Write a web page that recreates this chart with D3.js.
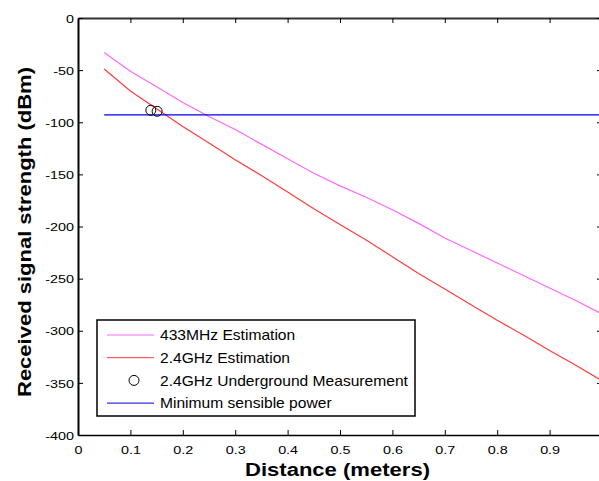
<!DOCTYPE html>
<html>
<head>
<meta charset="utf-8">
<script src="https://cdn.jsdelivr.net/npm/d3@7"></script>
<style>
  body { margin: 0; background: #fff; }
  svg { display: block; font-family: Arial, "Liberation Sans", sans-serif; }
</style>
</head>
<body>
<svg id="canvas"></svg>
<script>
const width = 599;
const height = 481;

// distance in meters
const distance = [0.05, 0.1, 0.15, 0.2, 0.25, 0.3, 0.35, 0.4, 0.45, 0.5,
  0.55, 0.6, 0.65, 0.7, 0.75, 0.8, 0.85, 0.9, 0.95, 1.0];
const est433 = [-33, -51, -66, -81, -94.5, -107, -121, -135, -149, -161,
  -172, -184, -197, -211, -223, -235, -247, -259, -271, -284];
const est24 = [-49, -70, -87, -104, -120, -136, -151, -167, -183, -198,
  -213, -229, -245, -260, -275, -290, -304, -319, -333, -348];
const measDist = [0.139, 0.151];
const measRss = [-88.5, -89.5];
const minPower = -93;
const xTicks = [0, 0.1, 0.2, 0.3, 0.4, 0.5, 0.6, 0.7, 0.8, 0.9, 1];
const yTicks = [0, -50, -100, -150, -200, -250, -300, -350, -400];
const legendLabels = ["433MHz Estimation", "2.4GHz Estimation",
  "2.4GHz Underground Measurement", "Minimum sensible power"];

const margin = {left: 78, top: 18, right: -3, bottom: 46};
const stretch = 1.25; // tick labels are drawn wide

const x = d3.scaleLinear().domain([0, 1]).range([margin.left, width - margin.right]);
const y = d3.scaleLinear().domain([-400, 0]).range([height - margin.bottom, margin.top]);

const svg = d3.select("svg#canvas")
    .attr("width", width)
    .attr("height", height);

const line = d3.line()
    .x(d => x(d[0]))
    .y(d => y(d[1]));

// curves
svg.append("path")
    .datum(distance.map((d, i) => [d, est433[i]]))
    .attr("d", line)
    .attr("fill", "none")
    .attr("stroke", "#ff66ff")
    .attr("stroke-width", 1.2);

svg.append("path")
    .datum(distance.map((d, i) => [d, est24[i]]))
    .attr("d", line)
    .attr("fill", "none")
    .attr("stroke", "#ff3b3b")
    .attr("stroke-width", 1.2);

svg.append("path")
    .datum([[distance[0], minPower], [distance[distance.length - 1], minPower]])
    .attr("d", line)
    .attr("fill", "none")
    .attr("stroke", "#0000e0")
    .attr("stroke-width", 1.2);

svg.append("g")
  .selectAll("circle")
  .data(measDist.map((d, i) => [d, measRss[i]]))
  .join("circle")
    .attr("cx", d => x(d[0]))
    .attr("cy", d => y(d[1]))
    .attr("r", 5)
    .attr("fill", "none")
    .attr("stroke", "#000")
    .attr("stroke-width", 1);

// axes, ticks pointing inward
const fmt = d => d === 1 ? "" : String(d);

svg.append("g")
    .attr("transform", `translate(0,${y(-400)})`)
    .call(d3.axisBottom(x).tickValues(xTicks).tickFormat(fmt).tickSizeInner(-5).tickSizeOuter(0))
    .call(g => g.select(".domain").attr("stroke-width", 1.5))
    .call(g => g.selectAll("text")
        .attr("y", 19.5).attr("dy", null)
        .attr("transform", `scale(${stretch},1)`)
        .attr("font-size", 11.5).attr("fill", "#000")
        .attr("font-family", "Arial, Liberation Sans, sans-serif"));

svg.append("g")
    .attr("transform", `translate(0,${y(0)})`)
    .call(d3.axisTop(x).tickValues(xTicks).tickFormat("").tickSizeInner(-5).tickSizeOuter(0))
    .call(g => g.select(".domain").attr("stroke", "#333").attr("stroke-width", 2));

svg.append("g")
    .attr("transform", `translate(${x(0)},0)`)
    .call(d3.axisLeft(y).tickValues(yTicks).tickFormat(fmt).tickSizeInner(-5).tickSizeOuter(0))
    .call(g => g.select(".domain").attr("stroke-width", 2))
    .call(g => g.selectAll("text")
        .attr("x", -4 / stretch).attr("dy", "0.36em")
        .attr("transform", `scale(${stretch},1)`)
        .attr("font-size", 11.5).attr("fill", "#000")
        .attr("font-family", "Arial, Liberation Sans, sans-serif"));

svg.append("g")
    .attr("transform", `translate(${x(1)},0)`)
    .call(d3.axisRight(y).tickValues(yTicks).tickFormat("").tickSizeInner(-5).tickSizeOuter(0));

// axis titles
svg.append("text")
    .attr("x", 337.5)
    .attr("y", 476)
    .attr("text-anchor", "middle")
    .attr("font-size", 17.5)
    .attr("font-weight", "bold")
    .attr("textLength", 185)
    .attr("lengthAdjust", "spacingAndGlyphs")
    .text("Distance (meters)");

svg.append("text")
    .attr("transform", "translate(31,232) rotate(-90)")
    .attr("text-anchor", "middle")
    .attr("font-size", 18)
    .attr("font-weight", "bold")
    .attr("textLength", 330)
    .attr("lengthAdjust", "spacingAndGlyphs")
    .text("Received signal strength (dBm)");

// legend
const legend = svg.append("g").attr("transform", "translate(97,320)");
legend.append("rect")
    .attr("width", 318)
    .attr("height", 96)
    .attr("fill", "#fff")
    .attr("stroke", "#111")
    .attr("stroke-width", 1.6);

const legendColors = ["#ff66ff", "#ff3b3b", null, "#0000e0"];
const row = legend.selectAll("g.row")
  .data(legendLabels)
  .join("g")
    .attr("class", "row")
    .attr("transform", (d, i) => `translate(0,${15 + i * 22.7})`);

row.each(function(d, i) {
  const g = d3.select(this);
  if (legendColors[i]) {
    g.append("line")
        .attr("x1", 10).attr("x2", 57)
        .attr("stroke", legendColors[i])
        .attr("stroke-width", 1);
  } else {
    g.append("circle")
        .attr("cx", 37).attr("r", 5)
        .attr("fill", "none").attr("stroke", "#000");
  }
});

row.append("text")
    .attr("x", 63 / 1.04)
    .attr("dy", "0.35em")
    .attr("transform", "scale(1.04,1)")
    .attr("font-size", 15)
    .text(d => d);
</script>
</body>
</html>
